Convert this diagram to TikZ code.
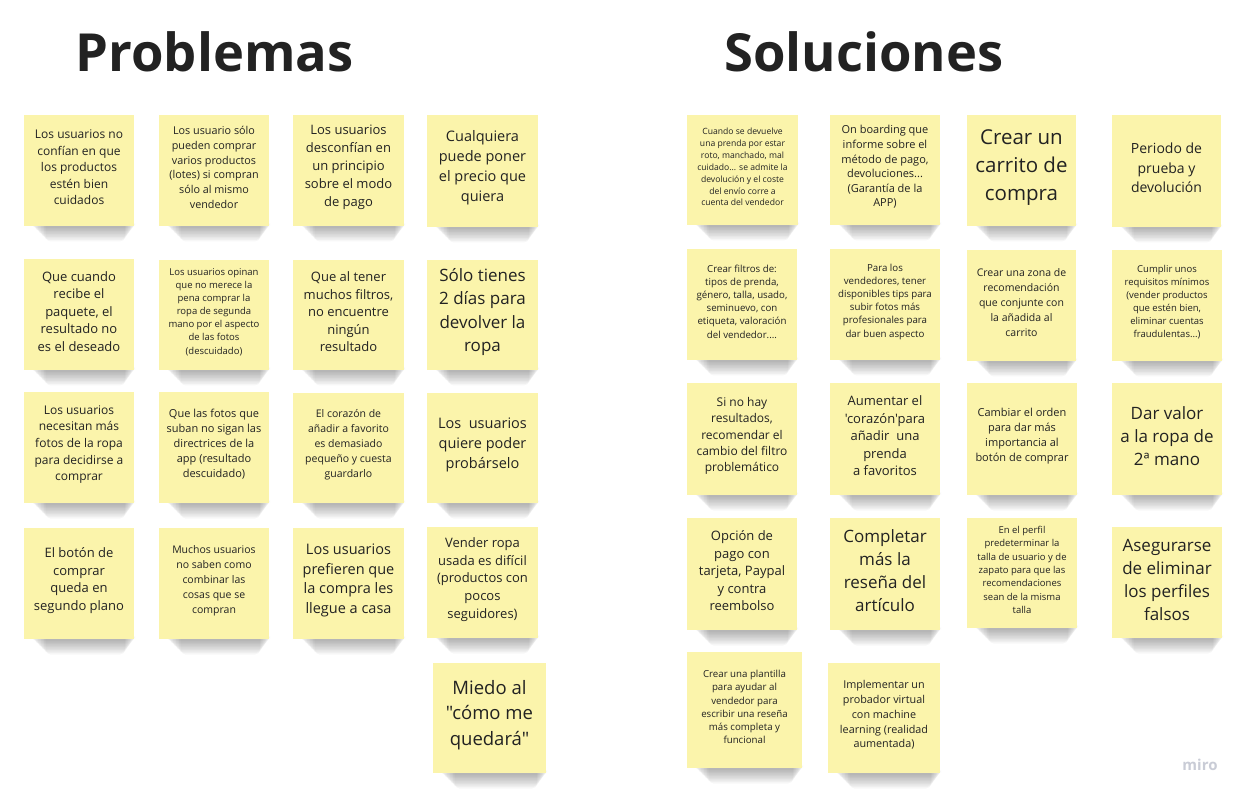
\documentclass[tikz,border=0pt]{standalone}
\usepackage{fontspec}
\setmainfont{Open Sans}[Ligatures=TeXOff]
\definecolor{sticky}{HTML}{FBF4AB}
\definecolor{ink}{HTML}{222222}
\definecolor{mirogray}{HTML}{C9CCD6}
\tikzset{
  notetext/.style={align=center, text=ink, inner sep=0pt},
  title/.style={anchor=west, text=ink, font=\fontsize{52.5}{60}\selectfont\bfseries}
}
\newcommand\stickynote[7]{%
  \foreach \k in {0,...,9}{%
    \fill[black,opacity=0.032,rounded corners=5] ({#2+8+\k*1.5},{#5-5}) rectangle ({#4+1-\k*1.1},{#5+2+\k*1.5});}
  \fill[sticky] (#2,#3) rectangle (#4,#5);
  \node[notetext,font=#6] (#1) at ({(#2+#4)/2},{(#3+#5)/2-3}) {#7};
}
\begin{document}
\begin{tikzpicture}[x=1pt,y=-1pt]
\useasboundingbox[fill=white] (0,0) rectangle (1250,799);
\node[title] (tprob) at (72,52) {Problemas};
\node[title] (tsol) at (721,52) {Soluciones};
% ---------------- Problemas ----------------
\stickynote{p1}{24}{115}{134}{226}{\fontsize{12}{16.5}\selectfont}{Los usuarios no\\confían en que\\los productos\\estén bien\\cuidados}
\stickynote{p2}{159}{115}{269}{226}{\fontsize{10.8}{14.8}\selectfont}{Los usuario sólo\\pueden comprar\\varios productos\\(lotes) si compran\\sólo al mismo\\vendedor}
\stickynote{p3}{293}{115}{404}{226}{\fontsize{13}{18}\selectfont}{Los usuarios\\desconfían en\\un principio\\sobre el modo\\de pago}
\stickynote{p4}{427}{115}{538}{227}{\fontsize{14.5}{20}\selectfont}{Cualquiera\\puede poner\\el precio que\\quiera}
\stickynote{p5}{24}{259}{134}{370}{\fontsize{13}{17.5}\selectfont}{Que cuando\\recibe el\\paquete, el\\resultado no\\es el deseado}
\stickynote{p6}{159}{260}{269}{370}{\fontsize{9.5}{13.1}\selectfont}{Los usuarios opinan\\que no merece la\\pena comprar la\\ropa de segunda\\mano por el aspecto\\de las fotos\\(descuidado)}
\stickynote{p7}{293}{260}{404}{370}{\fontsize{13}{17.5}\selectfont}{Que al tener\\muchos filtros,\\no encuentre\\ningún\\resultado}
\stickynote{p8}{427}{260}{538}{370}{\fontsize{17}{23.2}\selectfont}{Sólo tienes\\2 días para\\devolver la\\ropa}
\stickynote{p9}{24}{392}{134}{503}{\fontsize{12}{16.7}\selectfont}{Los usuarios\\necesitan más\\fotos de la ropa\\para decidirse a\\comprar}
\stickynote{p10}{159}{392}{269}{503}{\fontsize{11}{15}\selectfont}{Que las fotos que\\suban no sigan las\\directrices de la\\app (resultado\\descuidado)}
\stickynote{p11}{293}{393}{404}{503}{\fontsize{10.5}{15}\selectfont}{El corazón de\\añadir a favorito\\es demasiado\\pequeño y cuesta\\guardarlo}
\stickynote{p12}{427}{393}{538}{503}{\fontsize{14.5}{20}\selectfont}{Los\ \ usuarios\\quiere poder\\probárselo}
\stickynote{p13}{24}{528}{134}{639}{\fontsize{13}{17.7}\selectfont}{El botón de\\comprar\\queda en\\segundo plano}
\stickynote{p14}{159}{528}{269}{639}{\fontsize{10.5}{15}\selectfont}{Muchos usuarios\\no saben como\\combinar las\\cosas que se\\compran}
\stickynote{p15}{293}{528}{404}{639}{\fontsize{14.5}{19.7}\selectfont}{Los usuarios\\prefieren que\\la compra les\\llegue a casa}
\stickynote{p16}{427}{527}{538}{638}{\fontsize{13}{17.8}\selectfont}{Vender ropa\\usada es difícil\\(productos con\\pocos\\seguidores)}
\stickynote{p17}{433}{663}{546}{773}{\fontsize{18.5}{25.5}\selectfont}{Miedo al\\"cómo me\\quedará"}
% ---------------- Soluciones ----------------
\stickynote{s1}{687}{115}{798}{225}{\fontsize{8.6}{11.9}\selectfont}{Cuando se devuelve\\una prenda por estar\\roto, manchado, mal\\cuidado... se admite la\\devolución y el coste\\del envío corre a\\cuenta del vendedor}
\stickynote{s2}{830}{115}{940}{225}{\fontsize{11}{14.6}\selectfont}{On boarding que\\informe sobre el\\método de pago,\\devoluciones...\\(Garantía de la\\APP)}
\stickynote{s3}{967}{115}{1076}{226}{\fontsize{20.5}{28}\selectfont}{Crear un\\carrito de\\compra}
\stickynote{s4}{1112}{115}{1221}{227}{\fontsize{14}{19.5}\selectfont}{Periodo de\\prueba y\\devolución}
\stickynote{s5}{687}{249}{797}{360}{\fontsize{9.7}{13.2}\selectfont}{Crear filtros de:\\tipos de prenda,\\género, talla, usado,\\seminuevo, con\\etiqueta, valoración\\del vendedor....}
\stickynote{s6}{830}{249}{940}{360}{\fontsize{9.7}{13.2}\selectfont}{Para los\\vendedores, tener\\disponibles tips para\\subir fotos más\\profesionales para\\dar buen aspecto}
\stickynote{s7}{967}{250}{1076}{361}{\fontsize{10.5}{15}\selectfont}{Crear una zona de\\recomendación\\que conjunte con\\la añadida al\\carrito}
\stickynote{s8}{1112}{250}{1222}{361}{\fontsize{9.5}{13}\selectfont}{Cumplir unos\\requisitos mínimos\\(vender productos\\que estén bien,\\eliminar cuentas\\fraudulentas...)}
\stickynote{s9}{687}{383}{797}{495}{\fontsize{12}{16.3}\selectfont}{Si no hay\\resultados,\\recomendar el\\cambio del filtro\\problemático}
\stickynote{s10}{830}{383}{940}{495}{\fontsize{13}{17.5}\selectfont}{Aumentar el\\'corazón'para\\añadir\ \ una\\prenda\\a favoritos}
\stickynote{s11}{967}{383}{1077}{495}{\fontsize{11}{15}\selectfont}{Cambiar el orden\\para dar más\\importancia al\\botón de comprar}
\stickynote{s12}{1112}{383}{1222}{495}{\fontsize{17}{23}\selectfont}{Dar valor\\a la ropa de\\2ª mano}
\stickynote{s13}{687}{518}{797}{630}{\fontsize{13}{17.5}\selectfont}{Opción de\\pago con\\tarjeta, Paypal\\y contra\\reembolso}
\stickynote{s14}{830}{518}{940}{630}{\fontsize{17}{23}\selectfont}{Completar\\más la\\reseña del\\artículo}
\stickynote{s15}{967}{518}{1077}{628}{\fontsize{9.5}{13.3}\selectfont}{En el perfil\\predeterminar la\\talla de usuario y de\\zapato para que las\\recomendaciones\\sean de la misma\\talla}
\stickynote{s16}{1112}{527}{1222}{638}{\fontsize{17}{23}\selectfont}{Asegurarse\\de eliminar\\los perfiles\\falsos}
\stickynote{s17}{687}{652}{802}{768}{\fontsize{9.7}{13.2}\selectfont}{Crear una plantilla\\para ayudar al\\vendedor para\\escribir una reseña\\más completa y\\funcional}
\stickynote{s18}{828}{663}{940}{773}{\fontsize{10.8}{14.8}\selectfont}{Implementar un\\probador virtual\\con machine\\learning (realidad\\aumentada)}
\node[text=mirogray, font=\fontsize{15}{15}\selectfont\bfseries] (miro) at (1200,765) {miro};
\end{tikzpicture}
\end{document}
